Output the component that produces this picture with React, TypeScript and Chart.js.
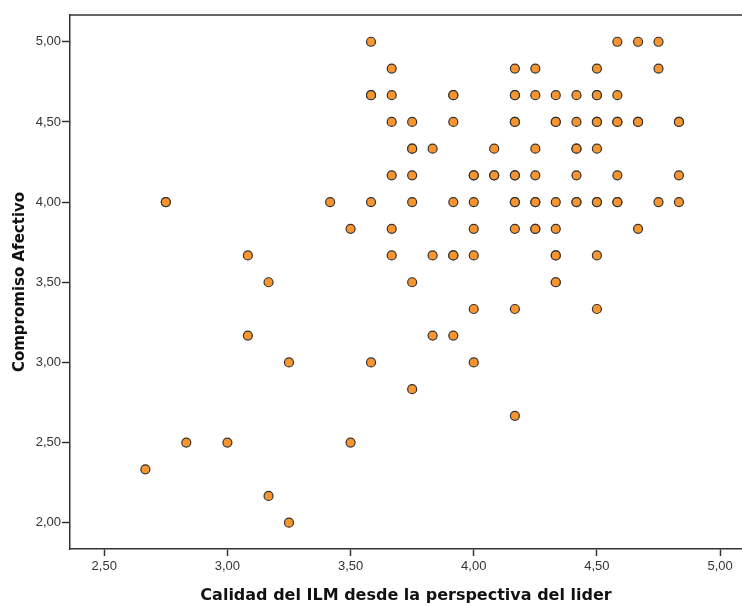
import React, { useEffect, useRef } from "react";
import { Chart, registerables } from "chart.js";

Chart.register(...registerables);

// Leader-rated LMX quality (x) and affective commitment (y), one entry per respondent.
const lmxLeader: number[] = [
  2.667, 2.833, 3.0, 2.75, 2.75, 3.083, 3.083, 3.167, 3.167, 3.25, 3.25,
  3.417, 3.5, 3.5, 3.583, 3.583, 3.583, 3.583, 3.583,
  3.667, 3.667, 3.667, 3.667, 3.667, 3.667,
  3.75, 3.75, 3.75, 3.75, 3.75, 3.75, 3.75,
  3.833, 3.833, 3.833,
  3.917, 3.917, 3.917, 3.917, 3.917, 3.917, 3.917,
  4.0, 4.0, 4.0, 4.0, 4.0, 4.0, 4.0,
  4.083, 4.083, 4.083,
  4.167, 4.167, 4.167, 4.167, 4.167, 4.167, 4.167, 4.167, 4.167, 4.167, 4.167, 4.167,
  4.25, 4.25, 4.25, 4.25, 4.25, 4.25, 4.25, 4.25,
  4.333, 4.333, 4.333, 4.333, 4.333, 4.333, 4.333, 4.333, 4.333,
  4.417, 4.417, 4.417, 4.417, 4.417, 4.417, 4.417,
  4.5, 4.5, 4.5, 4.5, 4.5, 4.5, 4.5, 4.5, 4.5, 4.5,
  4.583, 4.583, 4.583, 4.583, 4.583, 4.583, 4.583,
  4.667, 4.667, 4.667, 4.667,
  4.75, 4.75, 4.75,
  4.833, 4.833, 4.833, 4.833,
];

const affectiveCommitment: number[] = [
  2.333, 2.5, 2.5, 4.0, 4.0, 3.667, 3.167, 3.5, 2.167, 3.0, 2.0,
  4.0, 3.833, 2.5, 5.0, 4.667, 4.667, 4.0, 3.0,
  4.833, 4.667, 4.5, 4.167, 3.833, 3.667,
  4.5, 4.333, 4.333, 4.167, 4.0, 3.5, 2.833,
  4.333, 3.667, 3.167,
  4.667, 4.667, 4.5, 4.0, 3.667, 3.667, 3.167,
  4.167, 4.167, 4.0, 3.833, 3.667, 3.333, 3.0,
  4.333, 4.167, 4.167,
  4.833, 4.667, 4.667, 4.5, 4.5, 4.167, 4.167, 4.0, 4.0, 3.833, 3.333, 2.667,
  4.833, 4.667, 4.333, 4.167, 4.0, 4.0, 3.833, 3.833,
  4.667, 4.5, 4.5, 4.0, 3.833, 3.667, 3.667, 3.5, 3.5,
  4.667, 4.5, 4.333, 4.333, 4.167, 4.0, 4.0,
  4.833, 4.667, 4.667, 4.5, 4.5, 4.333, 4.0, 4.0, 3.667, 3.333,
  5.0, 4.667, 4.5, 4.5, 4.167, 4.0, 4.0,
  5.0, 4.5, 4.5, 3.833,
  5.0, 4.833, 4.0,
  4.5, 4.5, 4.167, 4.0,
];

const xTicks: number[] = [2.5, 3.0, 3.5, 4.0, 4.5, 5.0];
const yTicks: number[] = [2.0, 2.5, 3.0, 3.5, 4.0, 4.5, 5.0];

const xTitle = "Calidad del ILM desde la perspectiva del lider";
const yTitle = "Compromiso Afectivo";

const tickFont = "'Liberation Sans', Arial, sans-serif";
const titleFont = "'DejaVu Sans', Verdana, sans-serif";

const fmt = (v: number) => v.toFixed(2).replace(".", ",");

// Closes the plot frame along its upper edge.
const topFrame = {
  id: "topFrame",
  afterDraw(chart: any) {
    const { ctx, chartArea } = chart;
    ctx.save();
    ctx.strokeStyle = "#333333";
    ctx.lineWidth = 1.5;
    ctx.beginPath();
    ctx.moveTo(chartArea.left, chartArea.top);
    ctx.lineTo(chartArea.right, chartArea.top);
    ctx.stroke();
    ctx.restore();
  },
};

export default function App() {
  const canvasRef = useRef<HTMLCanvasElement | null>(null);

  useEffect(() => {
    const canvas = canvasRef.current;
    if (!canvas) return;
    const n = Math.min(lmxLeader.length, affectiveCommitment.length);
    const points = [];
    for (let i = 0; i < n; i++) points.push({ x: lmxLeader[i], y: affectiveCommitment[i] });

    const chart = new Chart(canvas, {
      type: "scatter",
      data: {
        datasets: [
          {
            data: points,
            pointRadius: 4.5,
            pointHoverRadius: 4.5,
            pointBackgroundColor: "#F8952F",
            pointBorderColor: "#333333",
            pointBorderWidth: 1.2,
          },
        ],
      },
      options: {
        responsive: false,
        animation: false,
        devicePixelRatio: 1,
        layout: { autoPadding: false, padding: { top: 15, right: 0, left: 0, bottom: 0 } },
        plugins: {
          legend: { display: false },
          tooltip: { enabled: false },
        },
        scales: {
          x: {
            type: "linear",
            min: 2.361,
            max: 5.089,
            afterFit: (scale: any) => {
              scale.height = 57;
              scale.paddingLeft = 0;
              scale.paddingRight = 0;
            },
            afterBuildTicks: (scale: any) => {
              scale.ticks = xTicks.map((v) => ({ value: v }));
            },
            grid: {
              drawOnChartArea: false,
              drawTicks: true,
              tickLength: 7,
              tickColor: "#333333",
              tickWidth: 1.5,
            },
            border: { display: true, color: "#333333", width: 1.5 },
            ticks: {
              color: "#333333",
              padding: 3,
              font: { family: tickFont, size: 13 },
              callback: (v: any) => fmt(Number(v)),
            },
            title: {
              display: true,
              text: xTitle,
              color: "#111111",
              padding: { top: 0, bottom: 1 },
              font: { family: titleFont, size: 16, weight: "bold" },
            },
          },
          y: {
            type: "linear",
            min: 1.836,
            max: 5.167,
            afterFit: (scale: any) => {
              scale.width = 70;
              scale.paddingTop = 0;
              scale.paddingBottom = 0;
            },
            afterBuildTicks: (scale: any) => {
              scale.ticks = yTicks.map((v) => ({ value: v }));
            },
            grid: {
              drawOnChartArea: false,
              drawTicks: true,
              tickLength: 8,
              tickColor: "#333333",
              tickWidth: 1.5,
            },
            border: { display: true, color: "#333333", width: 1.5 },
            ticks: {
              color: "#333333",
              padding: 1,
              font: { family: tickFont, size: 13 },
              callback: (v: any) => fmt(Number(v)),
            },
            title: {
              display: true,
              text: yTitle,
              color: "#111111",
              padding: { top: 11, bottom: 0 },
              font: { family: titleFont, size: 15, weight: "bold" },
            },
          },
        },
      },
      plugins: [topFrame],
    });

    return () => chart.destroy();
  }, []);

  return (
    <div style={{ position: "absolute", left: 0, top: 0, width: 742, height: 606, background: "#ffffff" }}>
      <canvas ref={canvasRef} width={742} height={606} style={{ display: "block" }} />
    </div>
  );
}
